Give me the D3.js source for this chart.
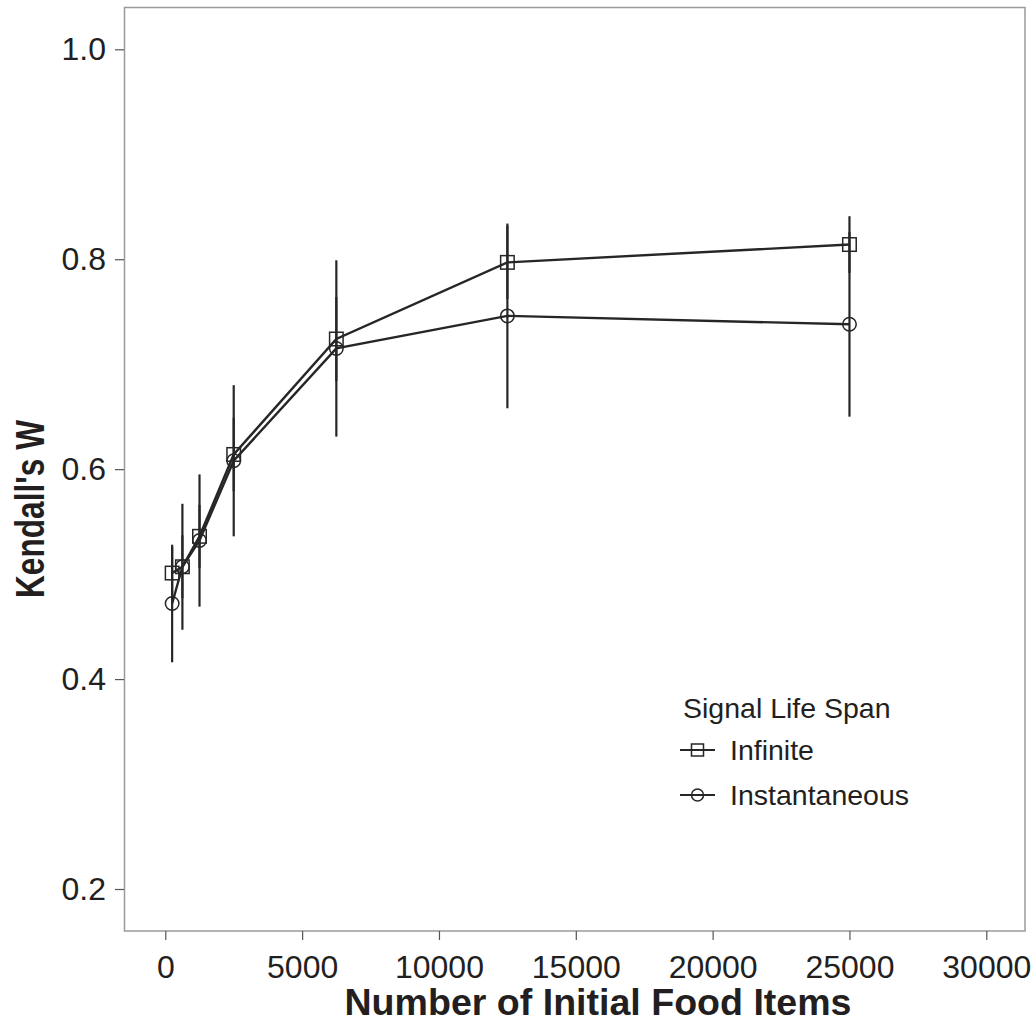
<!DOCTYPE html>
<html>
<head>
<meta charset="utf-8">
<script src="https://cdn.jsdelivr.net/npm/d3@7"></script>
<style>
  body { margin: 0; background: #fff; }
  svg { display: block; }
  text { font-family: "Liberation Sans", Arial, sans-serif; fill: #231f20; }
</style>
</head>
<body>
<svg width="1031" height="1025"></svg>
<script>
// data
var foodItems = [250, 625, 1250, 2500, 6250, 12500, 25000];
var infiniteW = [0.501, 0.507, 0.536, 0.614, 0.724, 0.797, 0.814];
var infiniteErr = [0.025, 0.03, 0.03, 0.035, 0.04, 0.035, 0.027];
var instantW = [0.472, 0.507, 0.532, 0.608, 0.715, 0.746, 0.738];
var instantErr = [0.056, 0.06, 0.063, 0.072, 0.084, 0.088, 0.088];
var xTicks = [0, 5000, 10000, 15000, 20000, 25000, 30000];
var yTicks = [0.2, 0.4, 0.6, 0.8, 1.0];

var svg = d3.select("svg");
var ink = "#262626";

var x = d3.scaleLinear().domain([0, 30000]).range([165.3, 986.3]);
var y = d3.scaleLinear().domain([0.2, 1.0]).range([889, 49.3]);

// panel frame
svg.append("rect")
  .attr("x", 124.5).attr("y", 7.5)
  .attr("width", 900.5).attr("height", 923.5)
  .attr("fill", "none").attr("stroke", "#9a9a9a").attr("stroke-width", 1.5);

// axes
var xAxis = svg.append("g").attr("transform", "translate(0,931)")
  .call(d3.axisBottom(x).tickValues(xTicks).tickSize(9).tickPadding(15).tickFormat(d3.format("d")));
var yAxis = svg.append("g").attr("transform", "translate(124,0)")
  .call(d3.axisLeft(y).tickValues(yTicks).tickSize(9).tickPadding(9).tickFormat(d3.format(".1f")));

[xAxis, yAxis].forEach(function(g) {
  g.select(".domain").remove();
  g.selectAll(".tick line").attr("stroke", "#555").attr("stroke-width", 1.2);
  g.selectAll(".tick text").attr("font-size", 32).attr("fill", "#231f20")
    .attr("font-family", "Liberation Sans, Arial, sans-serif");
});

// axis titles
svg.append("text")
  .attr("x", 598).attr("y", 1015)
  .attr("text-anchor", "middle")
  .attr("font-size", 36).attr("font-weight", "bold")
  .attr("textLength", 507).attr("lengthAdjust", "spacingAndGlyphs")
  .text("Number of Initial Food Items");

svg.append("text")
  .attr("transform", "translate(44,509) rotate(-90)")
  .attr("text-anchor", "middle")
  .attr("font-size", 40).attr("font-weight", "bold")
  .attr("textLength", 178).attr("lengthAdjust", "spacingAndGlyphs")
  .text("Kendall's W");

var series = [
  { name: "Infinite", vals: infiniteW, err: infiniteErr, shape: "square" },
  { name: "Instantaneous", vals: instantW, err: instantErr, shape: "circle" }
];

var plot = svg.append("g");

// error bars
series.forEach(function(s) {
  plot.append("g").selectAll("line")
    .data(foodItems)
    .enter().append("line")
      .attr("x1", function(d) { return x(d); })
      .attr("x2", function(d) { return x(d); })
      .attr("y1", function(d, i) { return y(s.vals[i] + s.err[i]); })
      .attr("y2", function(d, i) { return y(s.vals[i] - s.err[i]); })
      .attr("stroke", ink).attr("stroke-width", 2.2);
});

var line = d3.line()
  .x(function(d) { return x(d[0]); })
  .y(function(d) { return y(d[1]); });

series.forEach(function(s) {
  var pts = foodItems.map(function(f, i) { return [f, s.vals[i]]; });
  plot.append("path")
    .attr("d", line(pts))
    .attr("fill", "none").attr("stroke", ink).attr("stroke-width", 2.4);
});

function drawMarker(g, shape, cx, cy, size) {
  if (shape === "square") {
    g.append("rect")
      .attr("x", cx - size / 2).attr("y", cy - size / 2)
      .attr("width", size).attr("height", size)
      .attr("fill", "none").attr("stroke", ink).attr("stroke-width", 1.5);
  } else {
    g.append("circle")
      .attr("cx", cx).attr("cy", cy).attr("r", size / 2)
      .attr("fill", "none").attr("stroke", ink).attr("stroke-width", 1.5);
  }
}

series.forEach(function(s) {
  var g = plot.append("g");
  foodItems.forEach(function(f, i) {
    drawMarker(g, s.shape, x(f), y(s.vals[i]), 13.5);
  });
});

// legend
var legend = svg.append("g");
legend.append("text")
  .attr("x", 683).attr("y", 718)
  .attr("font-size", 28.5)
  .text("Signal Life Span");

series.forEach(function(s, i) {
  var cy = 750 + i * 45;
  legend.append("line")
    .attr("x1", 680).attr("x2", 715)
    .attr("y1", cy).attr("y2", cy)
    .attr("stroke", ink).attr("stroke-width", 2);
  drawMarker(legend, s.shape, 697.5, cy, 12);
  legend.append("text")
    .attr("x", 730).attr("y", cy + 10)
    .attr("font-size", 28.5)
    .text(s.name);
});
</script>
</body>
</html>
